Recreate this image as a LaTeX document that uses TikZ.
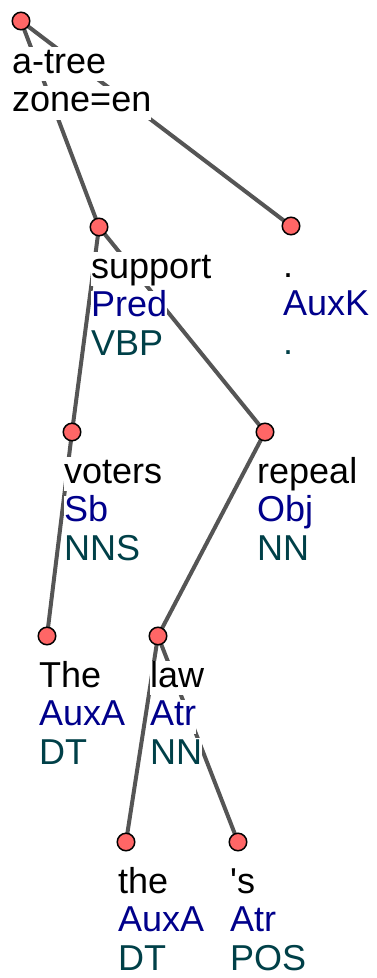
\documentclass[tikz,border=0pt]{standalone}
\usepackage{fontspec}
\setmainfont{Liberation Sans}[Ligatures=TeXOff]
\definecolor{edgegray}{RGB}{85,85,85}
\definecolor{nodered}{RGB}{255,102,102}
\definecolor{afun}{RGB}{0,0,139}
\definecolor{tagc}{RGB}{0,64,72}
\begin{document}
\begin{tikzpicture}[x=1pt,y=-1pt,
  edge/.style={draw=edgegray,line width=4pt},
  dot/.style={circle,draw=black,line width=1.5pt,fill=nodered,minimum size=17.5pt,inner sep=0pt},
  lbl/.style={fill=white,inner sep=0pt,anchor=base west,text height=26pt,text depth=8pt,font=\fontsize{36}{38}\selectfont},
  wf/.style={lbl,text=black},
  af/.style={lbl,text=afun},
  tg/.style={lbl,text=tagc}]
\useasboundingbox (0,0) rectangle (376,978);
% nodes (coordinates first)
\coordinate (r) at (21,21);
\coordinate (sup) at (99,227);
\coordinate (dot) at (291,226);
\coordinate (vot) at (72,432);
\coordinate (rep) at (265,432);
\coordinate (The) at (47,636);
\coordinate (law) at (158,636);
\coordinate (the) at (126,842);
\coordinate (s) at (238,842);
% edges
\draw[edge] (r) -- (sup);
\draw[edge] (r) -- (dot);
\draw[edge] (sup) -- (vot);
\draw[edge] (sup) -- (rep);
\draw[edge] (vot) -- (The);
\draw[edge] (rep) -- (law);
\draw[edge] (law) -- (the);
\draw[edge] (law) -- (s);
% labels
\node[wf] (r1) at ([shift={(-9,52)}]r) {a-tree};
\node[wf] (r2) at ([shift={(-9,90.5)}]r) {zone=en};
\foreach \n/\w/\a/\t in {sup/support/Pred/VBP, dot/./AuxK/., vot/voters/Sb/NNS, rep/repeal/Obj/NN, The/The/AuxA/DT, law/law/Atr/NN, the/the/AuxA/DT, s/'s/Atr/POS}{
  \node[wf] (\n-w) at ([shift={(-8,51)}]\n) {\w};
  \node[af] (\n-a) at ([shift={(-8,89.5)}]\n) {\a};
  \node[tg] (\n-t) at ([shift={(-8,128)}]\n) {\t};
}
% dots
\foreach \n in {r,sup,dot,vot,rep,The,law,the,s}{
  \node[dot] (\n-c) at (\n) {};
}
\end{tikzpicture}
\end{document}
